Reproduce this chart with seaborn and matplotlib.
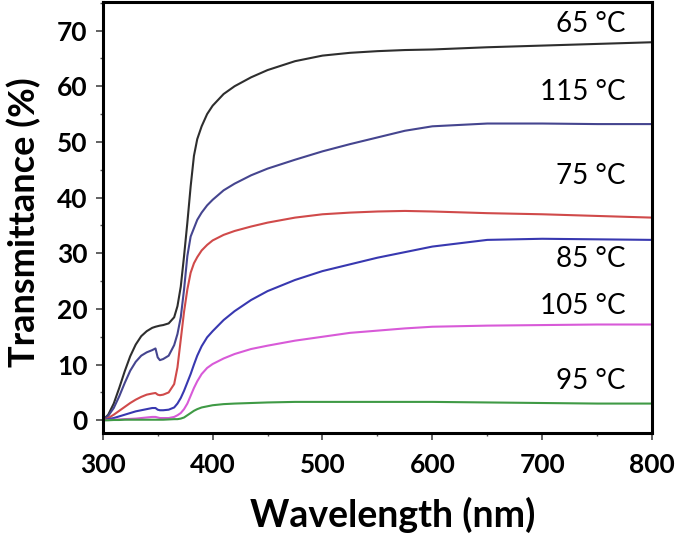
import matplotlib
matplotlib.use("Agg")
import matplotlib.pyplot as plt
from matplotlib.ticker import MultipleLocator
import numpy as np
import pandas as pd
import seaborn as sns

# =============================================================================
# Data
# =============================================================================

wavelength = [300, 305, 310, 315, 320, 325, 330, 335, 340, 345, 348, 350, 352,
              355, 360, 365, 368, 371, 374, 377, 380, 383, 386, 390, 395, 400,
              410, 420, 435, 450, 475, 500, 525, 550, 575, 600, 650, 700, 750, 800]

t65 = [0.0, 1.0, 3.0, 5.8, 8.8, 11.5, 13.6, 15.1, 16.0, 16.6, 16.8, 16.9, 17.0,
       17.1, 17.4, 18.5, 20.5, 24.0, 29.5, 35.5, 42.0, 47.5, 50.5, 52.8, 55.0, 56.5,
       58.6, 60.0, 61.6, 62.9, 64.5, 65.5, 66.0, 66.3, 66.5, 66.6, 67.0, 67.3, 67.6, 67.9]

t115 = [0.0, 0.8, 2.2, 4.3, 6.7, 8.9, 10.5, 11.6, 12.2, 12.6, 12.9, 11.3, 10.8,
        11.0, 11.6, 13.5, 15.5, 18.5, 23.5, 29.5, 33.0, 34.5, 36.0, 37.3, 38.6, 39.6,
        41.3, 42.5, 44.0, 45.2, 46.8, 48.3, 49.6, 50.8, 52.0, 52.8, 53.3, 53.3, 53.2, 53.2]

t75 = [0.0, 0.4, 1.0, 1.7, 2.4, 3.1, 3.7, 4.2, 4.6, 4.8, 4.9, 4.6, 4.5,
       4.6, 5.0, 6.5, 9.5, 14.5, 19.5, 23.5, 26.5, 28.2, 29.3, 30.5, 31.5, 32.3,
       33.3, 34.0, 34.8, 35.5, 36.4, 37.0, 37.3, 37.5, 37.6, 37.5, 37.2, 37.0, 36.7, 36.4]

t85 = [0.0, 0.2, 0.4, 0.7, 1.0, 1.3, 1.6, 1.8, 2.0, 2.2, 2.2, 1.9, 1.8,
       1.8, 1.9, 2.3, 3.0, 4.0, 5.3, 6.8, 8.3, 10.0, 11.6, 13.3, 14.9, 16.0,
       18.0, 19.6, 21.6, 23.2, 25.2, 26.8, 28.0, 29.2, 30.2, 31.2, 32.4, 32.6, 32.5, 32.4]

t105 = [0.0, 0.05, 0.1, 0.15, 0.2, 0.25, 0.3, 0.4, 0.5, 0.6, 0.6, 0.5, 0.4,
        0.4, 0.4, 0.6, 0.9, 1.3, 2.0, 3.0, 4.4, 5.8, 7.0, 8.3, 9.4, 10.1,
        11.1, 11.9, 12.8, 13.4, 14.3, 15.0, 15.7, 16.1, 16.5, 16.8, 17.0, 17.1, 17.2, 17.2]

t95 = [0.0, 0.0, 0.05, 0.05, 0.1, 0.1, 0.1, 0.1, 0.1, 0.1, 0.1, 0.1, 0.1,
       0.1, 0.15, 0.2, 0.2, 0.3, 0.5, 0.9, 1.3, 1.7, 2.0, 2.3, 2.5, 2.7,
       2.9, 3.0, 3.1, 3.2, 3.3, 3.3, 3.3, 3.3, 3.3, 3.3, 3.2, 3.1, 3.0, 3.0]

series_names = ["65 °C", "115 °C", "75 °C", "85 °C", "105 °C", "95 °C"]
series_values = [t65, t115, t75, t85, t105, t95]
series_colors = ["#2e2e2e", "#45458f", "#d04a4a", "#3838b0", "#d85ad8", "#3f9a45"]

# label anchor (right edge, baseline) in data units
label_x = [776, 776, 776, 776, 776, 776]
label_y = [69.8, 57.6, 42.4, 27.5, 19.1, 5.6]

x_ticks = [300, 400, 500, 600, 700, 800]
y_ticks = [0, 10, 20, 30, 40, 50, 60, 70]

# =============================================================================
# Plot
# =============================================================================

sns.set_style("ticks")
plt.rcParams["font.family"] = ["Lato", "DejaVu Sans"]
plt.rcParams["text.color"] = "black"
plt.rcParams["axes.labelcolor"] = "black"
plt.rcParams["xtick.labelcolor"] = "black"
plt.rcParams["ytick.labelcolor"] = "black"

df = pd.concat(
    [pd.DataFrame({"wavelength": wavelength, "T": vals, "sample": name})
     for name, vals in zip(series_names, series_values)],
    ignore_index=True,
)

fig = plt.figure(figsize=(6.85, 5.34), dpi=100)
ax = fig.add_axes([0.150, 0.189, 0.802, 0.808])

sns.lineplot(
    data=df, x="wavelength", y="T", hue="sample",
    palette=dict(zip(series_names, series_colors)),
    estimator=None, sort=False, legend=False, linewidth=1.5, ax=ax,
)

for name, lx, ly in zip(series_names, label_x, label_y):
    ax.text(lx, ly, name, ha="right", va="baseline", fontsize=20, color="black")

ax.set_xlim(300, 800)
ax.set_ylim(-2.3, 75.2)
ax.set_xticks(x_ticks)
ax.set_yticks(y_ticks)
ax.xaxis.set_minor_locator(MultipleLocator(50))
ax.yaxis.set_minor_locator(MultipleLocator(5))

for side in ["left", "right", "top", "bottom"]:
    ax.spines[side].set_visible(True)
    ax.spines[side].set_linewidth(2.2)
    ax.spines[side].set_color("black")

ax.tick_params(axis="both", which="major", direction="out", length=5, width=1.3,
               labelsize=19, color="#555555")
ax.tick_params(axis="x", which="major", pad=9)
ax.tick_params(axis="y", which="major", pad=6)
ax.tick_params(axis="both", which="minor", direction="out", length=2.5, width=1.0,
               color="#555555")
for lbl in ax.get_xticklabels() + ax.get_yticklabels():
    lbl.set_fontweight("bold")

ax.set_xlabel("Wavelength (nm)", fontsize=27, fontweight="bold")
ax.set_ylabel("Transmittance (%)", fontsize=26, fontweight="bold")
ax.xaxis.set_label_coords(0.528, -0.147)
ax.yaxis.set_label_coords(-0.112, 0.49)

fig.savefig("out.png", dpi=100)
